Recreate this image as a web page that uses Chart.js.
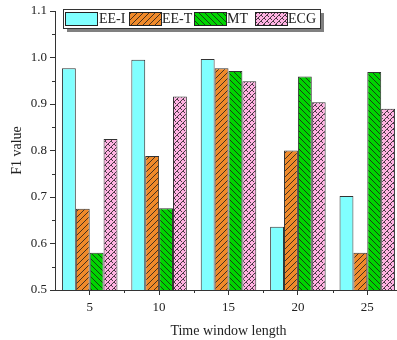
<!DOCTYPE html>
<html>
<head>
<meta charset="utf-8">
<script src="https://cdn.jsdelivr.net/npm/chart.js@4.4.0/dist/chart.umd.min.js"></script>
<style>
  html, body { margin: 0; padding: 0; background: #fff; overflow: hidden; }
  #wrap { width: 402px; height: 340px; }
</style>
</head>
<body>
<div id="wrap"><canvas id="chartF1"></canvas></div>
<script>
// data
const windowLengths = ['5', '10', '15', '20', '25'];
const seriesNames = ['EE-I', 'EE-T', 'MT', 'ECG'];
const eeI = [0.977, 0.995, 0.997, 0.636, 0.702];
const eeT = [0.675, 0.788, 0.977, 0.800, 0.580];
const mt  = [0.580, 0.676, 0.971, 0.959, 0.969];
const ecg = [0.825, 0.916, 0.949, 0.904, 0.890];
const yTicks = [0.5, 0.6, 0.7, 0.8, 0.9, 1.0, 1.1];

// hatch patterns
function makePattern(fill, kind) {
    const c = document.createElement('canvas');
    c.width = 6; c.height = 6;
    const g = c.getContext('2d');
    g.fillStyle = fill;
    g.fillRect(0, 0, 6, 6);
    g.strokeStyle = '#1a1a1a';
    g.lineWidth = 0.8;
    g.beginPath();
    if (kind === 'fwd') {
        g.moveTo(-1, 7); g.lineTo(7, -1);
        g.moveTo(-4, 4); g.lineTo(4, -4);
        g.moveTo(2, 10); g.lineTo(10, 2);
    } else if (kind === 'back') {
        g.moveTo(-1, -1); g.lineTo(7, 7);
        g.moveTo(-4, 2); g.lineTo(4, 10);
        g.moveTo(2, -4); g.lineTo(10, 4);
    } else {
        // slashes with short back-strokes, like a woven hatch
        g.moveTo(-1, 7); g.lineTo(7, -1);
        g.moveTo(-4, 4); g.lineTo(4, -4);
        g.moveTo(2, 10); g.lineTo(10, 2);
        g.moveTo(0, 0); g.lineTo(2, 2);
        g.moveTo(3, 3); g.lineTo(5, 5);
    }
    g.stroke();
    return g.createPattern(c, 'repeat');
}

const fills = [
    '#80ffff',
    makePattern('#f08a2a', 'fwd'),
    makePattern('#00d400', 'back'),
    makePattern('#ffb2e2', 'zig')
];
const seriesValues = [eeI, eeT, mt, ecg];

const serif = "'Liberation Serif', 'DejaVu Serif', serif";
const axisColor = '#333';

// minor ticks and in-plot legend
const extras = {
    id: 'extras',
    afterDraw(chart) {
        const ctx = chart.ctx;
        const ys = chart.scales.y, xs = chart.scales.x;
        const area = chart.chartArea;
        ctx.save();
        ctx.strokeStyle = axisColor;
        ctx.lineWidth = 1;
        ctx.beginPath();
        for (let i = 0; i < yTicks.length - 1; i++) {
            const py = Math.round(ys.getPixelForValue((yTicks[i] + yTicks[i + 1]) / 2)) + 0.5;
            ctx.moveTo(area.left - 3, py); ctx.lineTo(area.left, py);
        }
        for (let i = 1; i < windowLengths.length; i++) {
            const px = Math.round((xs.getPixelForTick(i - 1) + xs.getPixelForTick(i)) / 2) + 0.5;
            ctx.moveTo(px, area.bottom); ctx.lineTo(px, area.bottom + 3);
        }
        ctx.stroke();

        // legend box
        const bx = 63, by = 9, bw = 257, bh = 19;
        ctx.fillStyle = '#808080';
        ctx.fillRect(bx + 4, by + 4, bw, bh);
        ctx.fillStyle = '#fff';
        ctx.fillRect(bx, by, bw, bh);
        ctx.strokeStyle = '#333';
        ctx.strokeRect(bx + 0.5, by + 0.5, bw, bh);
        const swX = [65, 129, 194, 255];
        const txX = [99, 162, 227, 288];
        ctx.font = '14px ' + serif;
        ctx.textBaseline = 'middle';
        seriesNames.forEach((name, i) => {
            ctx.fillStyle = fills[i];
            ctx.fillRect(swX[i], by + 3, 32, 13);
            ctx.strokeStyle = '#222';
            ctx.strokeRect(swX[i] + 0.5, by + 3.5, 32, 13);
            ctx.fillStyle = '#222';
            ctx.fillText(name, txX[i], by + 10.5);
        });
        ctx.restore();
    }
};

new Chart(document.getElementById('chartF1'), {
    type: 'bar',
    data: {
        labels: windowLengths,
        datasets: seriesNames.map((name, i) => ({
            label: name,
            data: seriesValues[i],
            backgroundColor: fills[i],
            borderColor: '#333',
            borderWidth: 1,
            categoryPercentage: 0.8,
            barPercentage: 1.0
        }))
    },
    options: {
        responsive: true,
        maintainAspectRatio: false,
        animation: false,
        layout: { padding: { left: 0, right: 0, top: 11, bottom: 0 } },
        plugins: {
            legend: { display: false },
            tooltip: { enabled: false }
        },
        scales: {
            x: {
                grid: { offset: false, drawOnChartArea: false, tickLength: 5, color: axisColor },
                border: { color: axisColor },
                ticks: { color: '#222', font: { family: serif, size: 13 }, padding: 5 },
                title: {
                    display: true, text: 'Time window length', color: '#222',
                    font: { family: serif, size: 14 }, padding: { top: 5, bottom: 0 }
                },
                afterFit(scale) { scale.height = 50; }
            },
            y: {
                min: 0.5,
                max: 1.1,
                afterBuildTicks(scale) { scale.ticks = yTicks.map(v => ({ value: v })); },
                grid: { drawOnChartArea: false, tickLength: 5, color: axisColor },
                border: { color: axisColor },
                ticks: {
                    color: '#222', font: { family: serif, size: 13 }, padding: 3,
                    callback: v => v.toFixed(1)
                },
                title: {
                    display: true, text: 'F1 value', color: '#222',
                    font: { family: serif, size: 14 }, padding: { top: 9, bottom: 6 }
                },
                afterFit(scale) { scale.width = 55; }
            }
        }
    },
    plugins: [extras]
});
</script>
</body>
</html>
